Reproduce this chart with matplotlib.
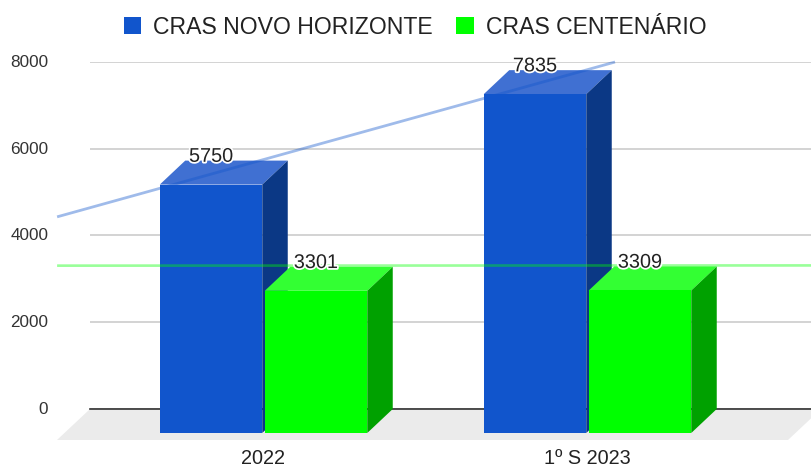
import matplotlib
matplotlib.use("Agg")
import matplotlib.pyplot as plt
from matplotlib.patches import Patch, Polygon
from matplotlib.transforms import ScaledTranslation
import matplotlib.patheffects as pe
import numpy as np

categories = ["2022", "1º S 2023"]
novo_horizonte = [5750, 7835]
centenario = [3301, 3309]
series_names = ["CRAS NOVO HORIZONTE", "CRAS CENTENÁRIO"]
yticks = [0, 2000, 4000, 6000, 8000]

# trend lines
trend_x = [-0.637, 1.085]
trend_blue = [4430, 8000]
trend_x2 = [-0.637, 1.69]
trend_green = [3305, 3310]

plt.rcParams["font.family"] = "Liberation Sans"

W, H = 811, 466
fig = plt.figure(figsize=(W / 100, H / 100), dpi=100)
ax = fig.add_axes([90 / W, 1 - 409 / H, (W - 90) / W, (409 - 62) / H])

unit = 324.0
ax.set_xlim((90 - 263.5) / unit, (W - 263.5) / unit)
ax.set_ylim(0, 8000)
px_y = 8000 / 347.0

bar_w = 102.5 / unit
gap = 2.5 / unit
dx = 25.5 / unit
dy = 24 * px_y
drop = 1 * px_y  # bar tops sit about a pixel under their value in the original

ax.grid(axis="y", color="#cccccc", linewidth=1.2, zorder=1)
ax.set_axisbelow(True)
for s in ["top", "left", "right"]:
    ax.spines[s].set_visible(False)
ax.spines["bottom"].set_color("#333333")
ax.spines["bottom"].set_linewidth(1.2)
ax.spines["bottom"].set_zorder(1.5)

# floor
x0 = ax.get_xlim()[0]
floor = Polygon([(x0, 0), (x0 - 33 / unit, -31 * px_y), (x0 + 698 / unit, -31 * px_y), (x0 + 731 / unit, 0)],
                closed=True, facecolor="#ebebeb", edgecolor="none", clip_on=False, zorder=1.2)
ax.add_patch(floor)


def bar3d(left, val, front, top, side, z):
    right = left + bar_w
    h = val - drop
    ax.bar(left, h, width=bar_w, bottom=-dy, align="edge", color=front, clip_on=False, zorder=z + 0.2)
    ax.add_patch(Polygon([(left, h - dy), (left + dx, h), (right + dx, h), (right, h - dy)],
                         closed=True, facecolor=top, edgecolor="none", clip_on=False, zorder=z))
    ax.add_patch(Polygon([(right, -dy), (right + dx, 0), (right + dx, h), (right, h - dy)],
                         closed=True, facecolor=side, edgecolor="none", clip_on=False, zorder=z))
    ax.annotate(str(val), (left + bar_w / 2, val), xytext=(0, -1.6), textcoords="offset points",
                ha="center", va="baseline", fontsize=14.3, color="#222222", zorder=8,
                path_effects=[pe.withStroke(linewidth=2.5, foreground="white")])


x = np.arange(len(categories))
for i in x:
    bar3d(i - bar_w - gap / 2, novo_horizonte[i], "#1155cc", "#4070d2", "#0b3885", 3 + i * 2)
    bar3d(i + gap / 2, centenario[i], "#00ff00", "#33ff33", "#00a100", 4 + i * 2)

ax.plot(trend_x, trend_blue, color="#1155cc", alpha=0.4, linewidth=2.0, clip_on=False, zorder=7,
        solid_capstyle="butt")
ax.plot(trend_x2, trend_green, color="#00ff00", alpha=0.4, linewidth=1.9, clip_on=False, zorder=7,
        solid_capstyle="butt")

ax.set_yticks(yticks)
ax.set_xticks(x, categories)
ax.tick_params(axis="y", length=0, pad=30, labelsize=12.3, labelcolor="#333333")
ax.tick_params(axis="x", length=0, pad=28.5, labelsize=14.3, labelcolor="#222222")
for lbl in ax.get_yticklabels():
    lbl.set_transform(lbl.get_transform() + ScaledTranslation(0, 1 / 100, fig.dpi_scale_trans))

handles = [Patch(facecolor="#1155cc", edgecolor="none"), Patch(facecolor="#00ff00", edgecolor="none")]
fig.legend(handles, series_names, loc="center", bbox_to_anchor=(415 / W, 1 - 27 / H), ncols=2, frameon=False,
           fontsize=16.6, labelcolor="#222222", handlelength=0.74, handleheight=0.7, handletextpad=0.52,
           columnspacing=1.04, borderpad=0, borderaxespad=0)

fig.savefig("out.png", dpi=100)
